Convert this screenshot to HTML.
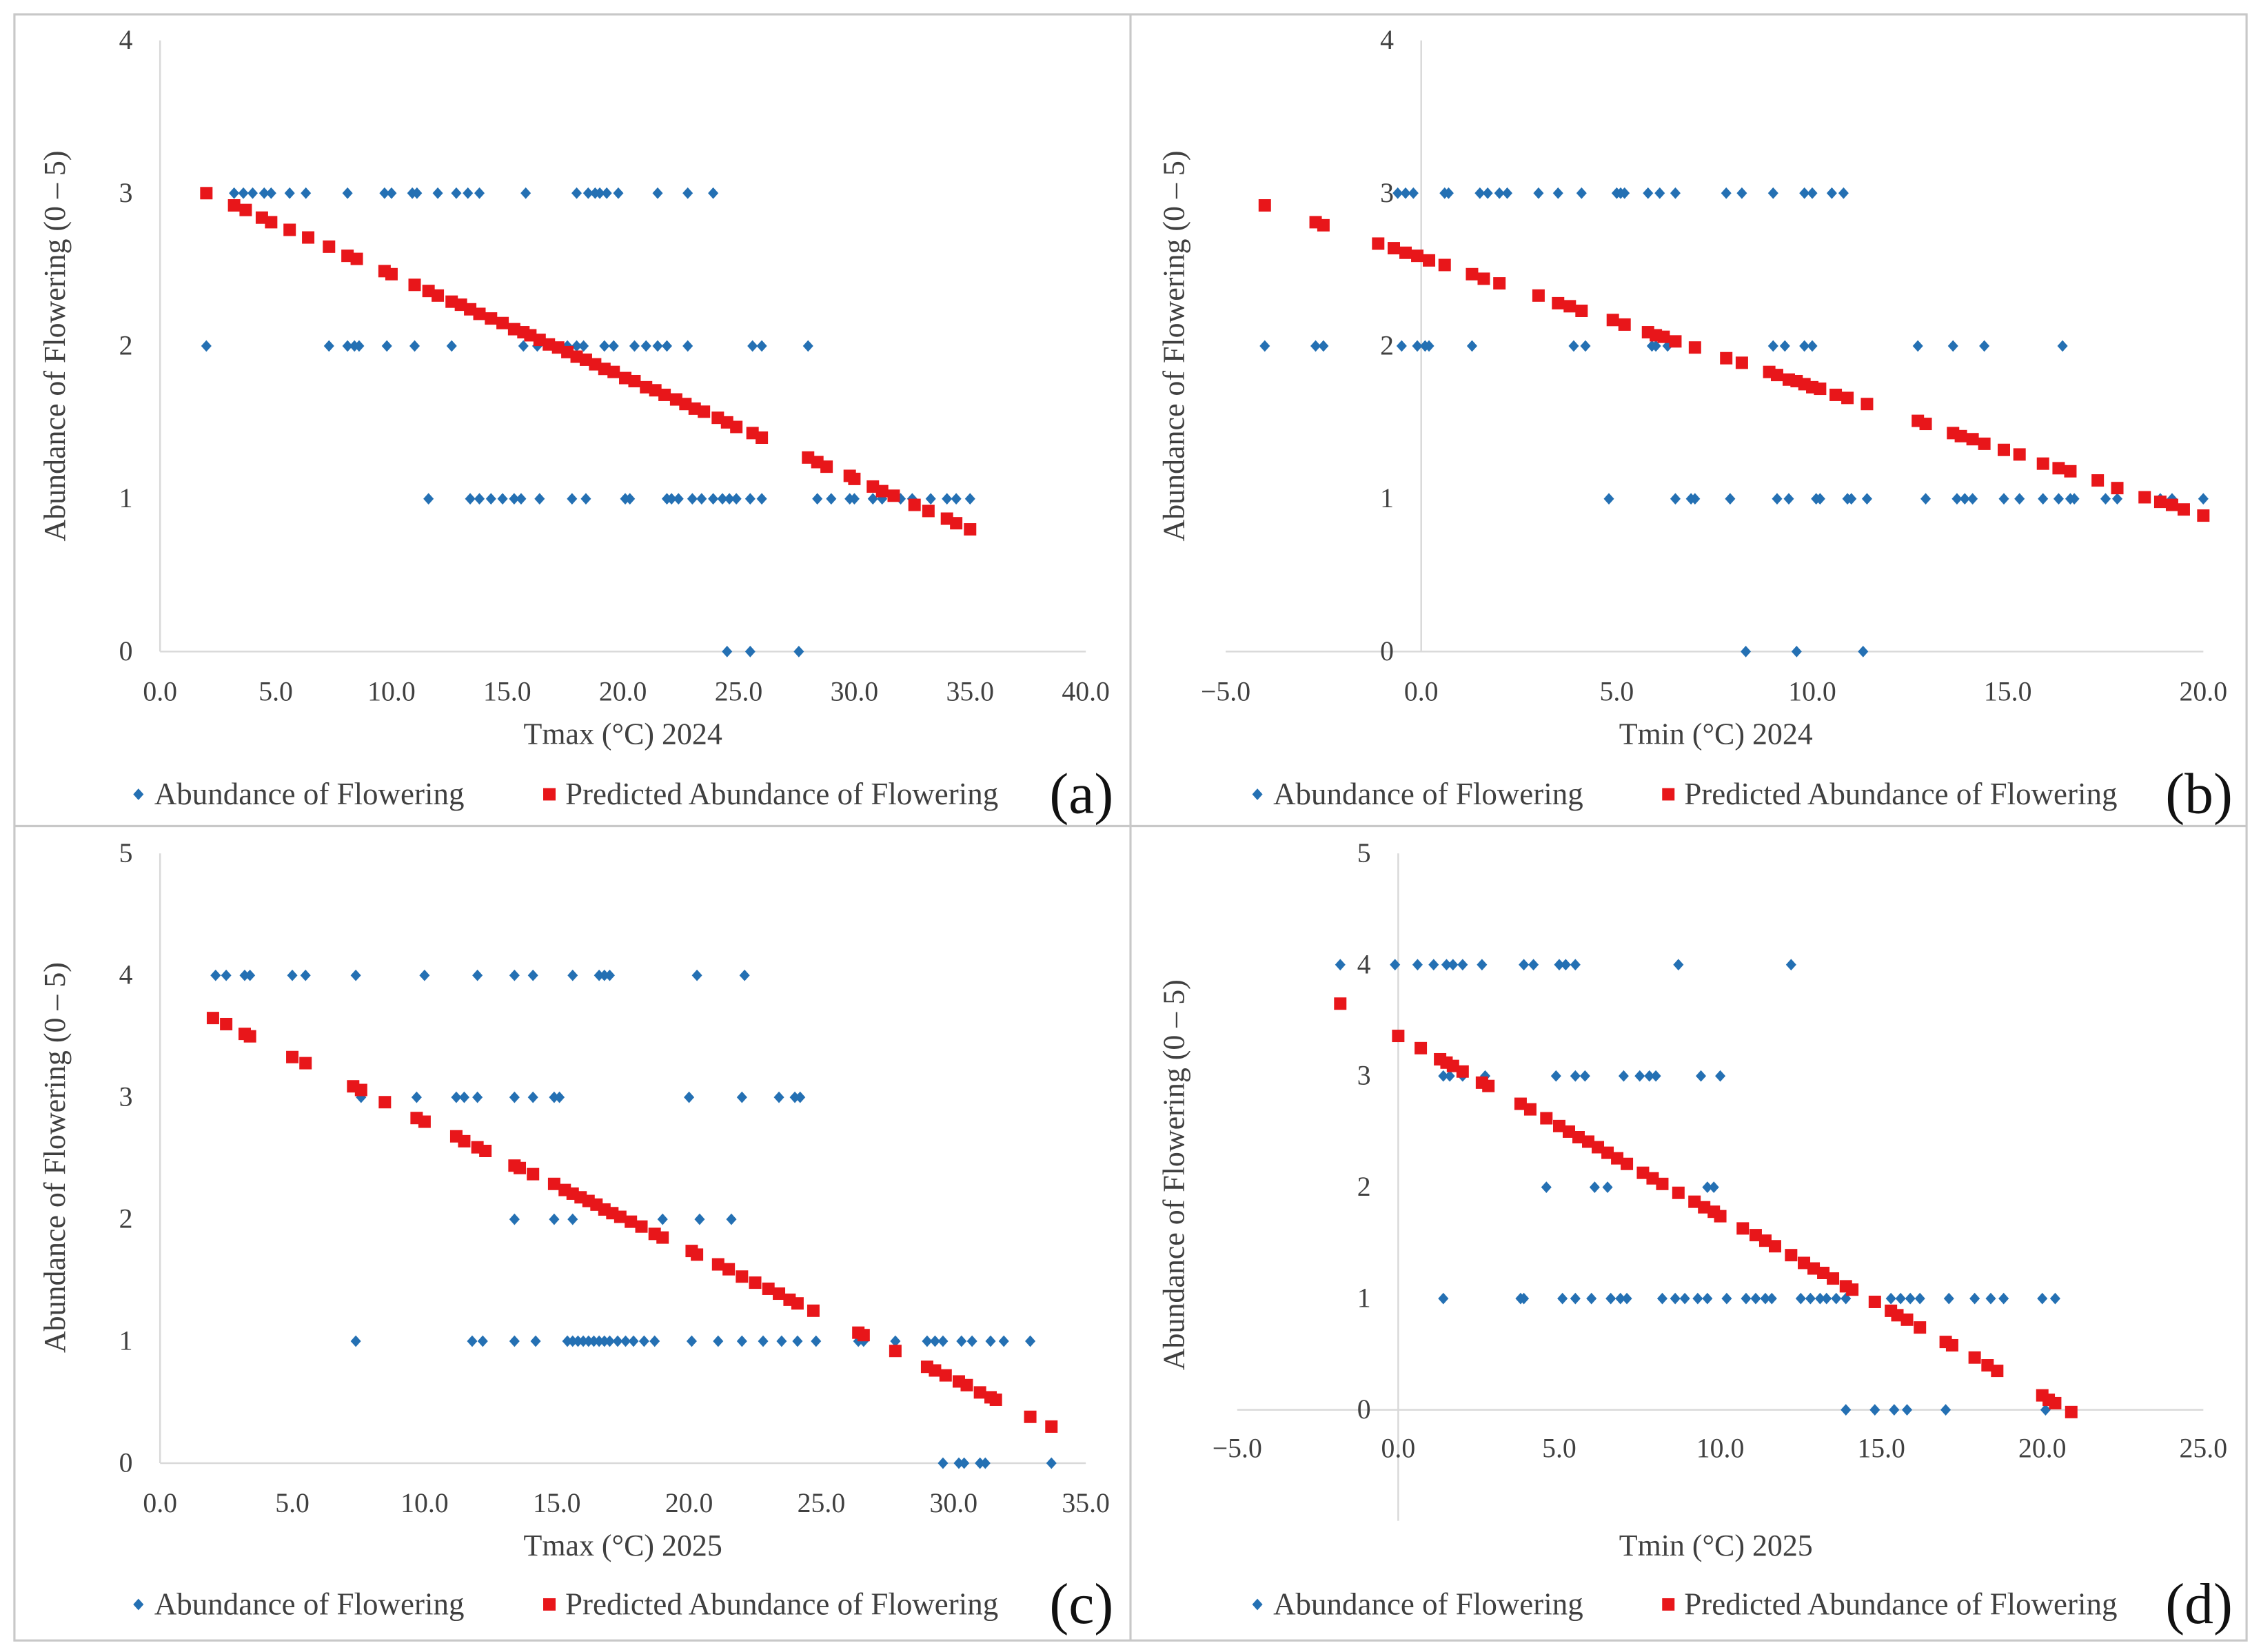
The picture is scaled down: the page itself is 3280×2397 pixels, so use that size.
<!DOCTYPE html>
<html><head><meta charset="utf-8"><style>
html,body{margin:0;padding:0;background:#fff;}
svg{display:block;font-family:"Liberation Serif","Times New Roman",serif;}
svg text{font-family:"Liberation Serif","Times New Roman",serif;fill:#404040;}
</style></head><body>
<svg id="chart" width="3280" height="2397" viewBox="0 0 1568 1146" preserveAspectRatio="none" font-family="Liberation Serif, serif" xmlns="http://www.w3.org/2000/svg">
<rect x="0" y="0" width="1568" height="1146" fill="#fff"/>
<rect x="10" y="10" width="1548" height="1128" fill="none" stroke="#c8c8c8" stroke-width="1.5"/>
<line x1="784" y1="10" x2="784" y2="1138" stroke="#c8c8c8" stroke-width="1.5"/>
<line x1="10" y1="573" x2="1558" y2="573" stroke="#c8c8c8" stroke-width="1.5"/>
<g id="layer"></g>
</svg>
<script>
// Panel (a) Tmax 2024
const aObsX3=[3.2,3.6,4.0,4.5,4.8,5.6,6.3,8.1,9.7,10.0,10.9,11.1,12.0,12.8,13.3,13.8,15.8,18.0,18.5,18.8,19.0,19.3,19.8,21.5,22.8,23.9];
const aObsX2=[2.0,7.3,8.1,8.4,8.6,9.8,11.0,12.6,15.7,16.3,17.0,17.6,18.0,18.3,19.2,19.6,20.5,21.0,21.5,21.9,22.8,25.6,26.0,28.0];
const aObsX1=[11.6,13.4,13.8,14.3,14.8,15.3,15.6,16.4,17.8,18.4,20.1,20.3,21.9,22.1,22.4,23.0,23.4,23.9,24.3,24.6,24.9,25.5,26.0,28.4,29.0,29.8,30.0,30.8,31.2,32.0,32.5,33.3,34.0,34.4,35.0];
const aObsX0=[24.5,25.5,27.6];
const aPredX=[2.0,3.2,3.7,4.4,4.8,5.6,6.4,7.3,8.1,8.5,9.7,10.0,11.0,11.6,12.0,12.6,13.0,13.4,13.8,14.3,14.8,15.3,15.7,16.0,16.4,16.8,17.2,17.6,18.0,18.4,18.8,19.2,19.6,20.1,20.5,21.0,21.4,21.8,22.3,22.7,23.1,23.5,24.1,24.5,24.9,25.6,26.0,28.0,28.4,28.8,29.8,30.0,30.8,31.2,31.7,32.6,33.2,34.0,34.4,35.0];
const aPredY=[3.00,2.92,2.89,2.84,2.81,2.76,2.71,2.65,2.59,2.57,2.49,2.47,2.40,2.36,2.33,2.29,2.27,2.24,2.21,2.18,2.15,2.11,2.09,2.07,2.04,2.01,1.99,1.96,1.93,1.91,1.88,1.85,1.83,1.79,1.77,1.73,1.71,1.68,1.65,1.62,1.59,1.57,1.53,1.50,1.47,1.43,1.40,1.27,1.24,1.21,1.15,1.13,1.08,1.05,1.02,0.96,0.92,0.87,0.84,0.80];
const aXTicks=["0.0","5.0","10.0","15.0","20.0","25.0","30.0","35.0","40.0"];
const aYTicks=["0","1","2","3","4"];
// Panel (b) Tmin 2024
const bObsX3=[-0.6,-0.4,-0.2,0.6,0.7,1.5,1.7,2.0,2.2,3.0,3.5,4.1,5.0,5.1,5.2,5.8,6.1,6.5,7.8,8.2,9.0,9.8,10.0,10.5,10.8];
const bObsX2=[-4.0,-2.7,-2.5,-0.5,-0.1,0.1,0.2,1.3,3.9,4.2,5.9,6.0,6.3,9.0,9.3,9.8,10.0,12.7,13.6,14.4,16.4];
const bObsX1=[4.8,6.5,6.9,7.0,7.9,9.1,9.4,10.1,10.2,10.9,11.0,11.4,12.9,13.7,13.9,14.1,14.9,15.3,15.9,16.3,16.6,16.7,17.5,17.8,18.9,19.2,20.0];
const bObsX0=[8.3,9.6,11.3];
const bPredX=[-4.0,-2.7,-2.5,-1.1,-0.7,-0.4,-0.1,0.2,0.6,1.3,1.6,2.0,3.0,3.5,3.8,4.1,4.9,5.2,5.8,6.0,6.2,6.5,7.0,7.8,8.2,8.9,9.1,9.4,9.6,9.8,10.0,10.2,10.6,10.9,11.4,12.7,12.9,13.6,13.8,14.1,14.4,14.9,15.3,15.9,16.3,16.6,17.3,17.8,18.5,18.9,19.2,19.5,20.0];
const bPredY=[2.92,2.81,2.79,2.67,2.64,2.61,2.59,2.56,2.53,2.47,2.44,2.41,2.33,2.28,2.26,2.23,2.17,2.14,2.09,2.07,2.06,2.03,1.99,1.92,1.89,1.83,1.81,1.78,1.77,1.75,1.73,1.72,1.68,1.66,1.62,1.51,1.49,1.43,1.41,1.39,1.36,1.32,1.29,1.23,1.20,1.18,1.12,1.07,1.01,0.98,0.96,0.93,0.89];
const bXTicks=["\u22125.0","0.0","5.0","10.0","15.0","20.0"];
const bYTicks=["0","1","2","3","4"];
// Panel (c) Tmax 2025
const cObsX4=[2.1,2.5,3.2,3.4,5.0,5.5,7.4,10.0,12.0,13.4,14.1,15.6,16.6,16.8,17.0,20.3,22.1];
const cObsX3=[7.6,9.7,11.2,11.5,12.0,13.4,14.1,14.9,15.1,20.0,22.0,23.4,24.0,24.2];
const cObsX2=[13.4,14.9,15.6,19.0,20.4,21.6];
const cObsX1=[7.4,11.8,12.2,13.4,14.2,15.4,15.6,15.8,16.0,16.2,16.4,16.6,16.8,17.0,17.3,17.6,17.9,18.3,18.7,20.1,21.1,22.0,22.8,23.5,24.1,24.8,26.4,26.6,27.8,29.0,29.3,29.6,30.3,30.7,31.4,31.9,32.9];
const cObsX0=[29.6,30.2,30.4,31.0,31.2,33.7];
const cPredX=[2.0,2.5,3.2,3.4,5.0,5.5,7.3,7.6,8.5,9.7,10.0,11.2,11.5,12.0,12.3,13.4,13.6,14.1,14.9,15.3,15.6,15.9,16.2,16.5,16.8,17.1,17.4,17.8,18.2,18.7,19.0,20.1,20.3,21.1,21.5,22.0,22.5,23.0,23.4,23.8,24.1,24.7,26.4,26.6,27.8,29.0,29.3,29.7,30.2,30.5,31.0,31.4,31.6,32.9,33.7];
const cPredY=[3.65,3.60,3.52,3.50,3.33,3.28,3.09,3.06,2.96,2.83,2.80,2.68,2.64,2.59,2.56,2.44,2.42,2.37,2.29,2.24,2.21,2.18,2.15,2.12,2.08,2.05,2.02,1.98,1.94,1.88,1.85,1.74,1.71,1.63,1.59,1.53,1.48,1.43,1.39,1.34,1.31,1.25,1.07,1.05,0.92,0.79,0.76,0.72,0.67,0.64,0.58,0.54,0.52,0.38,0.30];
const cXTicks=["0.0","5.0","10.0","15.0","20.0","25.0","30.0","35.0"];
const cYTicks=["0","1","2","3","4","5"];
// Panel (d) Tmin 2025
const dObsX4=[-1.8,-0.1,0.6,1.1,1.5,1.7,2.0,2.6,3.9,4.2,5.0,5.2,5.5,8.7,12.2];
const dObsX3=[1.4,1.6,2.0,2.7,4.9,5.5,5.8,7.0,7.5,7.8,8.0,9.4,10.0];
const dObsX2=[4.6,6.1,6.5,9.6,9.8];
const dObsX1=[1.4,3.8,3.9,5.1,5.5,6.0,6.6,6.9,7.1,8.2,8.6,8.9,9.3,9.6,10.2,10.8,11.1,11.4,11.6,12.5,12.8,13.1,13.3,13.6,13.9,15.3,15.6,15.9,16.2,17.1,17.9,18.4,18.8,20.0,20.4];
const dObsX0=[13.9,14.8,15.4,15.8,17.0,20.1];
const dPredX=[-1.8,0.0,0.7,1.3,1.5,1.7,2.0,2.6,2.8,3.8,4.1,4.6,5.0,5.3,5.6,5.9,6.2,6.5,6.8,7.1,7.6,7.9,8.2,8.7,9.2,9.5,9.8,10.0,10.7,11.1,11.4,11.7,12.2,12.6,12.9,13.2,13.5,13.9,14.1,14.8,15.3,15.5,15.8,16.2,17.0,17.2,17.9,18.3,18.6,20.0,20.2,20.4,20.9];
const dPredY=[3.65,3.36,3.25,3.15,3.12,3.09,3.04,2.94,2.91,2.75,2.70,2.62,2.55,2.50,2.45,2.41,2.36,2.31,2.26,2.21,2.13,2.08,2.03,1.95,1.87,1.82,1.78,1.74,1.63,1.57,1.52,1.47,1.39,1.32,1.27,1.23,1.18,1.11,1.08,0.97,0.89,0.85,0.81,0.74,0.61,0.58,0.47,0.40,0.35,0.13,0.09,0.06,-0.02];
const dXTicks=["\u22125.0","0.0","5.0","10.0","15.0","20.0","25.0"];
const dYTicks=["0","1","2","3","4","5"];

const NS="http://www.w3.org/2000/svg";
const FONT='"Liberation Serif", "Times New Roman", serif';
const layer=document.getElementById('layer');
function mk(tag,attrs,parent){const e=document.createElementNS(NS,tag);for(const k in attrs)e.setAttribute(k,attrs[k]);if(tag==='text'){e.style.fontFamily=FONT;}(parent||layer).appendChild(e);return e;}

function panel(o){
  const g=mk('g',{});
  
  
  const sx=v=>o.x0+(v-o.xmin)/(o.xmax-o.xmin)*(o.x1-o.x0);
  const sy=v=>o.y0-(v-o.ymin)/(o.ymax-o.ymin)*(o.y0-o.y1);
  const ax=sx(0);
  const yl=mk('line',{x1:ax,y1:sy(o.ymax),x2:ax,y2:o.yAxisBottom||sy(o.ymin),stroke:'#d9d9d9','stroke-width':1.2},g);
  
  
  const xl=mk('line',{x1:o.x0,y1:sy(0),x2:o.x1,y2:sy(0),stroke:'#d9d9d9','stroke-width':1.2},g);
  
  
  o.yTicks.forEach((t,i)=>{
    const tx=mk('text',{x:ax-19,y:sy(o.ymin+i)+6,'text-anchor':'end','font-size':19},g);
    tx.textContent=t;
    
    
  });
  o.xTicks.forEach((t,i)=>{
    const tx=mk('text',{x:sx(o.xmin+i*o.xstep),y:o.xTickY,'text-anchor':'middle','font-size':19},g);
    tx.textContent=t;
    
    
  });
  const xt=mk('text',{x:o.xTitleX,y:o.xTitleY,'text-anchor':'middle','font-size':21},g);
  xt.textContent=o.xTitle;
  
  
  const yt=mk('text',{x:0,y:0,'text-anchor':'middle','font-size':21,transform:`translate(${o.yTitleX},${o.yTitleY}) rotate(-90)`},g);
  yt.textContent='Abundance of Flowering (0 \u2013 5)';
  
  
  o.obs.forEach(([xs,lvl])=>{
    xs.forEach(v=>{
      const cx=sx(v),cy=sy(lvl);
      const p=mk('polygon',{points:`${cx},${cy-4} ${cx+3.6},${cy} ${cx},${cy+4} ${cx-3.6},${cy}`,fill:'#2470b3'},g);
      
      
    });
  });
  o.predX.forEach((v,i)=>{
    const r=mk('rect',{x:sx(v)-4.3,y:sy(o.predY[i])-4.3,width:8.6,height:8.6,fill:'#e8161a'},g);
    
    
  });
  const ly=o.legendY;
  const ld=mk('polygon',{points:`${o.lx1},${ly-4} ${o.lx1+3.6},${ly} ${o.lx1},${ly+4} ${o.lx1-3.6},${ly}`,fill:'#2470b3'},g);
  
  
  const lt1=mk('text',{x:o.lx1+11,y:ly+7,'font-size':21.5},g);
  lt1.textContent='Abundance of Flowering';
  
  
  const ls=mk('rect',{x:o.lx2-4.3,y:ly-4.3,width:8.6,height:8.6,fill:'#e8161a'},g);
  
  
  const lt2=mk('text',{x:o.lx2+11,y:ly+7,'font-size':21.5},g);
  lt2.textContent='Predicted Abundance of Flowering';
  
  
  const pl=mk('text',{x:o.labelX,y:ly+13,'text-anchor':'middle','font-size':40,style:'fill:#111'},g);
  pl.style.fontFamily=FONT;
  pl.textContent='('+o.id+')';
  
  
}

panel({id:'a',xmin:0,xmax:40,xstep:5,x0:111,x1:753,ymin:0,ymax:4,y0:452,y1:28,xTicks:aXTicks,yTicks:aYTicks,xTickY:486,
  xTitle:'Tmax (\u00B0C) 2024',xTitleX:432,xTitleY:516,yTitleX:45,yTitleY:240,
  obs:[[aObsX3,3],[aObsX2,2],[aObsX1,1],[aObsX0,0]],predX:aPredX,predY:aPredY,legendY:551,lx1:96,lx2:381,labelX:750});
panel({id:'b',xmin:-5,xmax:20,xstep:5,x0:850,x1:1528,ymin:0,ymax:4,y0:452,y1:28,xTicks:bXTicks,yTicks:bYTicks,xTickY:486,
  xTitle:'Tmin (\u00B0C) 2024',xTitleX:1190,xTitleY:516,yTitleX:821,yTitleY:240,
  obs:[[bObsX3,3],[bObsX2,2],[bObsX1,1],[bObsX0,0]],predX:bPredX,predY:bPredY,legendY:551,lx1:872,lx2:1157,labelX:1525});
panel({id:'c',xmin:0,xmax:35,xstep:5,x0:111,x1:753,ymin:0,ymax:5,y0:1015,y1:592,xTicks:cXTicks,yTicks:cYTicks,xTickY:1049,
  xTitle:'Tmax (\u00B0C) 2025',xTitleX:432,xTitleY:1079,yTitleX:45,yTitleY:803,
  obs:[[cObsX4,4],[cObsX3,3],[cObsX2,2],[cObsX1,1],[cObsX0,0]],predX:cPredX,predY:cPredY,legendY:1113,lx1:96,lx2:381,labelX:750});
panel({id:'d',xmin:-5,xmax:25,xstep:5,x0:858,x1:1528,ymin:0,ymax:5,y0:978,y1:592,yAxisBottom:1055,xTicks:dXTicks,yTicks:dYTicks,xTickY:1011,
  xTitle:'Tmin (\u00B0C) 2025',xTitleX:1190,xTitleY:1079,yTitleX:821,yTitleY:815,
  obs:[[dObsX4,4],[dObsX3,3],[dObsX2,2],[dObsX1,1],[dObsX0,0]],predX:dPredX,predY:dPredY,legendY:1113,lx1:872,lx2:1157,labelX:1525});
</script>
</body></html>
